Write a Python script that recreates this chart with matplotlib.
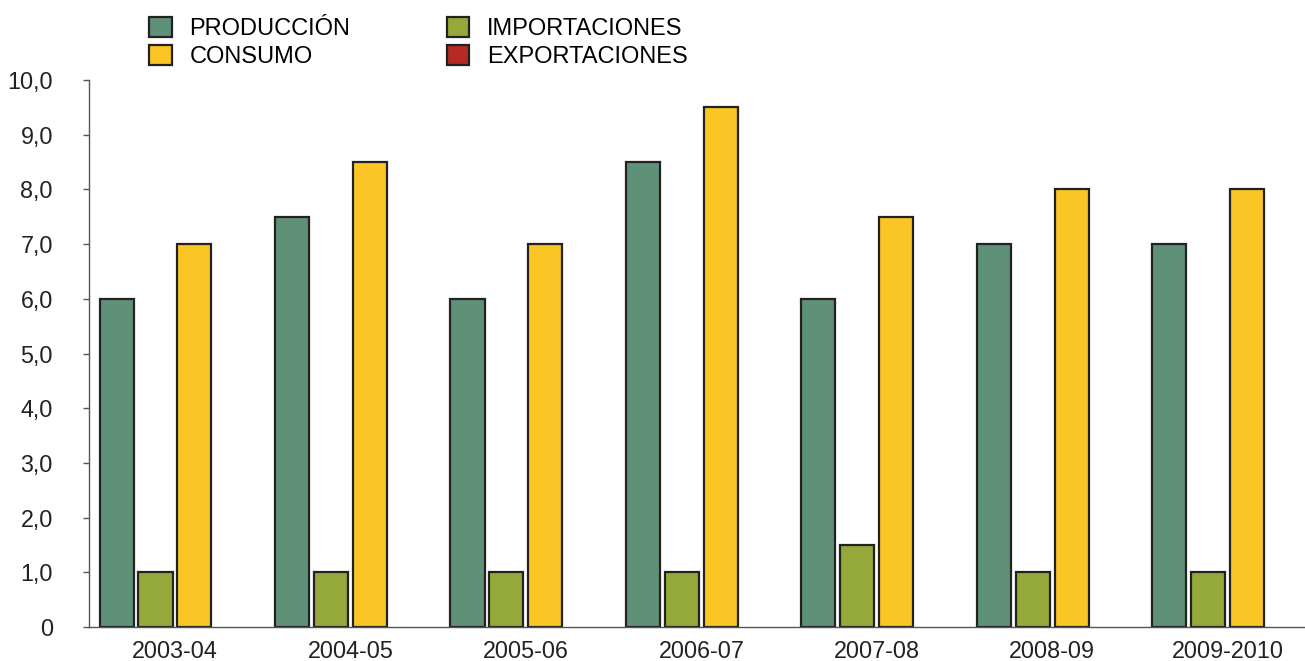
import numpy as np
import matplotlib.pyplot as plt
from matplotlib.ticker import FixedLocator

plt.rcParams['font.family'] = ['Liberation Sans', 'DejaVu Sans']

# campañas y series (millones de toneladas)
campanas = ['2003-04', '2004-05', '2005-06', '2006-07', '2007-08', '2008-09', '2009-2010']
produccion = [6.0, 7.5, 6.0, 8.5, 6.0, 7.0, 7.0]
importaciones = [1.0, 1.0, 1.0, 1.0, 1.5, 1.0, 1.0]
consumo = [7.0, 8.5, 7.0, 9.5, 7.5, 8.0, 8.0]
exportaciones = [0.0, 0.0, 0.0, 0.0, 0.0, 0.0, 0.0]

series = [
    ('PRODUCCIÓN', produccion, '#5f9178'),
    ('IMPORTACIONES', importaciones, '#95a83a'),
    ('CONSUMO', consumo, '#fcc526'),
    ('EXPORTACIONES', exportaciones, '#b52a23'),
]

fig = plt.figure(figsize=(13.05, 6.61), dpi=100)
ax = fig.add_axes([89 / 1305, 1 - 627 / 661, 1 - 89 / 1305, (627 - 80) / 661])

x = np.arange(len(campanas))
paso = 0.222
ancho = 0.194
barras = {}
for i, (nombre, valores, color) in enumerate(series):
    off = (i - 1.5) * paso
    b = ax.bar(x + off, valores, width=ancho, color=color,
               edgecolor='#222222', linewidth=1.6, label=nombre, zorder=2)
    barras[nombre] = b

ax.set_xlim(-0.49, 6.44)
ax.set_ylim(0, 10)
ax.set_xticks(x)
ax.set_xticklabels(campanas)
ax.yaxis.set_major_locator(FixedLocator(np.arange(0, 11, 1)))
ax.set_yticklabels(['0'] + [f'{v:.1f}'.replace('.', ',') for v in range(1, 11)])

ax.tick_params(axis='x', length=0, pad=9, labelsize=16.8, colors='#222222')
ax.tick_params(axis='y', length=4, width=1, pad=22, labelsize=16.8,
               colors='#555555', labelcolor='#222222')

for lado in ['top', 'right']:
    ax.spines[lado].set_visible(False)
for lado in ['left', 'bottom']:
    ax.spines[lado].set_color('#555555')
    ax.spines[lado].set_linewidth(1.0)

orden = ['PRODUCCIÓN', 'CONSUMO', 'IMPORTACIONES', 'EXPORTACIONES']
fig.legend([barras[n] for n in orden], orden, ncol=2, frameon=False,
           loc='upper left', bbox_to_anchor=(140 / 1305, 1 - 8 / 661),
           fontsize=17, handlelength=0.94, handleheight=0.9,
           handletextpad=0.75, columnspacing=4.1, labelspacing=0.2,
           borderaxespad=0)

# las barras de altura cero no dejan borde sobre el eje
for b in barras.values():
    for p in b.patches:
        if p.get_height() == 0:
            p.set_edgecolor('none')

fig.savefig('out.png', dpi=100)
